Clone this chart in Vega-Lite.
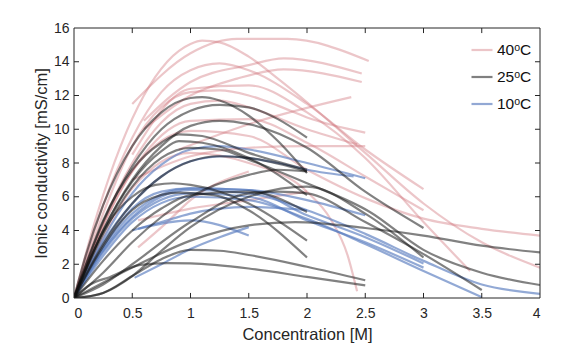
{
"$schema": "https://vega.github.io/schema/vega-lite/v6.json",
"width": 466, "height": 270,
"autosize": "none",
"padding": {"left": 74, "top": 28, "right": 42, "bottom": 57},
"background": "white",
"config": {
  "view": {"stroke": null},
  "font": "Liberation Sans",
  "axis": {"domain": false, "ticks": false, "grid": false, "labelColor": "#262626", "labelFontSize": 14, "titleColor": "#262626", "titleFontSize": 16.5, "titleFontWeight": "normal", "labelFont": "Liberation Sans", "titleFont": "Liberation Sans"},
  "axisX": {"labelPadding": 8, "titlePadding": 6},
  "axisY": {"labelPadding": 5, "titlePadding": 4},
  "legend": {"labelFont": "Liberation Sans"}
},
"data": {"values": [
{"s":"r1","g":"40ᵒC","c":0,"k":0},{"s":"r1","g":"40ᵒC","c":0.2,"k":5},{"s":"r1","g":"40ᵒC","c":0.4,"k":9},{"s":"r1","g":"40ᵒC","c":0.6,"k":12},{"s":"r1","g":"40ᵒC","c":0.8,"k":14},{"s":"r1","g":"40ᵒC","c":1,"k":15.05},{"s":"r1","g":"40ᵒC","c":1.1,"k":15.25},{"s":"r1","g":"40ᵒC","c":1.25,"k":15.15},{"s":"r1","g":"40ᵒC","c":1.5,"k":14.3},{"s":"r1","g":"40ᵒC","c":1.75,"k":13},{"s":"r1","g":"40ᵒC","c":2,"k":11.6},{"s":"r1","g":"40ᵒC","c":2.5,"k":8.6},{"s":"r1","g":"40ᵒC","c":3,"k":5.6},{"s":"r1","g":"40ᵒC","c":3.5,"k":3.3},{"s":"r1","g":"40ᵒC","c":4,"k":1.8},
{"s":"r2","g":"40ᵒC","c":0,"k":0},{"s":"r2","g":"40ᵒC","c":0.25,"k":5.5},{"s":"r2","g":"40ᵒC","c":0.5,"k":9.5},{"s":"r2","g":"40ᵒC","c":0.75,"k":12.2},{"s":"r2","g":"40ᵒC","c":1,"k":13.5},{"s":"r2","g":"40ᵒC","c":1.25,"k":13.9},{"s":"r2","g":"40ᵒC","c":1.5,"k":13.5},{"s":"r2","g":"40ᵒC","c":2,"k":11.5},{"s":"r2","g":"40ᵒC","c":2.5,"k":8.8},{"s":"r2","g":"40ᵒC","c":3,"k":6.45},
{"s":"r3","g":"40ᵒC","c":0.5,"k":11.5},{"s":"r3","g":"40ᵒC","c":1,"k":14.5},{"s":"r3","g":"40ᵒC","c":1.4,"k":15.35},{"s":"r3","g":"40ᵒC","c":1.83,"k":15.35},{"s":"r3","g":"40ᵒC","c":2.53,"k":14.05},
{"s":"r4","g":"40ᵒC","c":0.6,"k":10.5},{"s":"r4","g":"40ᵒC","c":1,"k":12.8},{"s":"r4","g":"40ᵒC","c":1.5,"k":13.8},{"s":"r4","g":"40ᵒC","c":1.8,"k":14.2},{"s":"r4","g":"40ᵒC","c":2.47,"k":13.3},
{"s":"r5","g":"40ᵒC","c":0.6,"k":10},{"s":"r5","g":"40ᵒC","c":1,"k":12},{"s":"r5","g":"40ᵒC","c":1.4,"k":13},{"s":"r5","g":"40ᵒC","c":1.8,"k":13.55},{"s":"r5","g":"40ᵒC","c":2.47,"k":12.8},
{"s":"r6","g":"40ᵒC","c":0,"k":0},{"s":"r6","g":"40ᵒC","c":0.25,"k":5},{"s":"r6","g":"40ᵒC","c":0.5,"k":9},{"s":"r6","g":"40ᵒC","c":0.75,"k":11.3},{"s":"r6","g":"40ᵒC","c":1,"k":12.2},{"s":"r6","g":"40ᵒC","c":1.25,"k":12.3},{"s":"r6","g":"40ᵒC","c":1.5,"k":12},{"s":"r6","g":"40ᵒC","c":1.75,"k":11.4},{"s":"r6","g":"40ᵒC","c":2,"k":10.7},{"s":"r6","g":"40ᵒC","c":2.5,"k":9.8},
{"s":"r7","g":"40ᵒC","c":0.9,"k":8.8},{"s":"r7","g":"40ᵒC","c":1.5,"k":10.3},{"s":"r7","g":"40ᵒC","c":2.38,"k":11.9},
{"s":"r8","g":"40ᵒC","c":0,"k":0},{"s":"r8","g":"40ᵒC","c":0.25,"k":4.5},{"s":"r8","g":"40ᵒC","c":0.5,"k":8},{"s":"r8","g":"40ᵒC","c":0.75,"k":10.4},{"s":"r8","g":"40ᵒC","c":1,"k":11.5},{"s":"r8","g":"40ᵒC","c":1.25,"k":11.7},{"s":"r8","g":"40ᵒC","c":1.5,"k":11.3},{"s":"r8","g":"40ᵒC","c":2,"k":10},{"s":"r8","g":"40ᵒC","c":2.43,"k":9.1},
{"s":"r9","g":"40ᵒC","c":0,"k":0},{"s":"r9","g":"40ᵒC","c":0.25,"k":4.3},{"s":"r9","g":"40ᵒC","c":0.5,"k":7.5},{"s":"r9","g":"40ᵒC","c":1,"k":9.9},{"s":"r9","g":"40ᵒC","c":1.5,"k":9.6},{"s":"r9","g":"40ᵒC","c":2,"k":7.6},{"s":"r9","g":"40ᵒC","c":2.54,"k":5.8},{"s":"r9","g":"40ᵒC","c":3,"k":4.7},{"s":"r9","g":"40ᵒC","c":3.5,"k":4.1},{"s":"r9","g":"40ᵒC","c":4,"k":3.7},
{"s":"r10","g":"40ᵒC","c":0,"k":0},{"s":"r10","g":"40ᵒC","c":0.25,"k":3.6},{"s":"r10","g":"40ᵒC","c":0.5,"k":6.5},{"s":"r10","g":"40ᵒC","c":1,"k":8.6},{"s":"r10","g":"40ᵒC","c":1.5,"k":8},{"s":"r10","g":"40ᵒC","c":2,"k":6.3},{"s":"r10","g":"40ᵒC","c":2.2,"k":4.7},{"s":"r10","g":"40ᵒC","c":2.35,"k":2.5},{"s":"r10","g":"40ᵒC","c":2.43,"k":0.4},
{"s":"r11","g":"40ᵒC","c":0.5,"k":8.5},{"s":"r11","g":"40ᵒC","c":1,"k":12.4},{"s":"r11","g":"40ᵒC","c":1.5,"k":12.6},{"s":"r11","g":"40ᵒC","c":2,"k":11},{"s":"r11","g":"40ᵒC","c":2.5,"k":8.3},{"s":"r11","g":"40ᵒC","c":3,"k":4.5},{"s":"r11","g":"40ᵒC","c":3.4,"k":1.6},
{"s":"r12","g":"40ᵒC","c":0.55,"k":3},{"s":"r12","g":"40ᵒC","c":0.8,"k":4.5},{"s":"r12","g":"40ᵒC","c":1,"k":5.8},{"s":"r12","g":"40ᵒC","c":1.5,"k":7.5},
{"s":"r13","g":"40ᵒC","c":0.55,"k":4.6},{"s":"r13","g":"40ᵒC","c":1,"k":5.3},{"s":"r13","g":"40ᵒC","c":1.5,"k":5.8},{"s":"r13","g":"40ᵒC","c":2,"k":6.3},
{"s":"r14","g":"40ᵒC","c":0.5,"k":7},{"s":"r14","g":"40ᵒC","c":1,"k":8.4},{"s":"r14","g":"40ᵒC","c":1.5,"k":8.9},{"s":"r14","g":"40ᵒC","c":2,"k":9},{"s":"r14","g":"40ᵒC","c":2.5,"k":9},
{"s":"r15","g":"40ᵒC","c":0,"k":0},{"s":"r15","g":"40ᵒC","c":0.3,"k":5},{"s":"r15","g":"40ᵒC","c":0.6,"k":8.5},{"s":"r15","g":"40ᵒC","c":1,"k":10.5},{"s":"r15","g":"40ᵒC","c":1.5,"k":10.6},{"s":"r15","g":"40ᵒC","c":2,"k":9.2},{"s":"r15","g":"40ᵒC","c":2.5,"k":7.2},{"s":"r15","g":"40ᵒC","c":3,"k":5.2},
{"s":"b1","g":"10ᵒC","c":0,"k":0},{"s":"b1","g":"10ᵒC","c":0.25,"k":3.5},{"s":"b1","g":"10ᵒC","c":0.5,"k":6.2},{"s":"b1","g":"10ᵒC","c":0.75,"k":7.9},{"s":"b1","g":"10ᵒC","c":1,"k":8.8},{"s":"b1","g":"10ᵒC","c":1.25,"k":9},{"s":"b1","g":"10ᵒC","c":1.5,"k":8.8},{"s":"b1","g":"10ᵒC","c":2,"k":8},{"s":"b1","g":"10ᵒC","c":2.5,"k":7.1},
{"s":"b2","g":"10ᵒC","c":0,"k":0},{"s":"b2","g":"10ᵒC","c":0.25,"k":3.3},{"s":"b2","g":"10ᵒC","c":0.5,"k":5.6},{"s":"b2","g":"10ᵒC","c":0.75,"k":7.2},{"s":"b2","g":"10ᵒC","c":1,"k":8.1},{"s":"b2","g":"10ᵒC","c":1.3,"k":8.4},{"s":"b2","g":"10ᵒC","c":1.75,"k":8},{"s":"b2","g":"10ᵒC","c":2,"k":7.6},{"s":"b2","g":"10ᵒC","c":2.4,"k":7.2},
{"s":"b3","g":"10ᵒC","c":0,"k":0},{"s":"b3","g":"10ᵒC","c":0.25,"k":3},{"s":"b3","g":"10ᵒC","c":0.5,"k":5.3},{"s":"b3","g":"10ᵒC","c":0.75,"k":6.3},{"s":"b3","g":"10ᵒC","c":1,"k":6.5},{"s":"b3","g":"10ᵒC","c":1.5,"k":6.4},{"s":"b3","g":"10ᵒC","c":2,"k":5.8},{"s":"b3","g":"10ᵒC","c":2.5,"k":4.9},
{"s":"b4","g":"10ᵒC","c":0,"k":0},{"s":"b4","g":"10ᵒC","c":0.25,"k":2.8},{"s":"b4","g":"10ᵒC","c":0.5,"k":4.8},{"s":"b4","g":"10ᵒC","c":1,"k":6.4},{"s":"b4","g":"10ᵒC","c":1.5,"k":6.2},{"s":"b4","g":"10ᵒC","c":2,"k":5.2},{"s":"b4","g":"10ᵒC","c":2.5,"k":3.8},{"s":"b4","g":"10ᵒC","c":3,"k":2.2},{"s":"b4","g":"10ᵒC","c":3.5,"k":0.8},{"s":"b4","g":"10ᵒC","c":4,"k":0.25},
{"s":"b5","g":"10ᵒC","c":0,"k":0},{"s":"b5","g":"10ᵒC","c":0.25,"k":2.5},{"s":"b5","g":"10ᵒC","c":0.5,"k":4.5},{"s":"b5","g":"10ᵒC","c":1,"k":6},{"s":"b5","g":"10ᵒC","c":1.5,"k":5.8},{"s":"b5","g":"10ᵒC","c":2,"k":4.7},{"s":"b5","g":"10ᵒC","c":2.5,"k":3.2},{"s":"b5","g":"10ᵒC","c":3,"k":1.6},{"s":"b5","g":"10ᵒC","c":3.5,"k":0.05},
{"s":"b6","g":"10ᵒC","c":0,"k":0},{"s":"b6","g":"10ᵒC","c":0.25,"k":2.7},{"s":"b6","g":"10ᵒC","c":0.5,"k":4.7},{"s":"b6","g":"10ᵒC","c":1,"k":6.2},{"s":"b6","g":"10ᵒC","c":1.5,"k":6},{"s":"b6","g":"10ᵒC","c":2,"k":4.6},{"s":"b6","g":"10ᵒC","c":2.5,"k":3.3},{"s":"b6","g":"10ᵒC","c":3,"k":1.8},
{"s":"b7","g":"10ᵒC","c":0,"k":0},{"s":"b7","g":"10ᵒC","c":0.25,"k":2.9},{"s":"b7","g":"10ᵒC","c":0.5,"k":5},{"s":"b7","g":"10ᵒC","c":1,"k":6.5},{"s":"b7","g":"10ᵒC","c":1.5,"k":6.4},{"s":"b7","g":"10ᵒC","c":2,"k":4.9},{"s":"b7","g":"10ᵒC","c":2.5,"k":3.6},{"s":"b7","g":"10ᵒC","c":3,"k":2.05},
{"s":"b8","g":"10ᵒC","c":0.52,"k":1.2},{"s":"b8","g":"10ᵒC","c":0.75,"k":2},{"s":"b8","g":"10ᵒC","c":1,"k":2.9},{"s":"b8","g":"10ᵒC","c":1.25,"k":3.6},{"s":"b8","g":"10ᵒC","c":1.5,"k":4.2},
{"s":"b9","g":"10ᵒC","c":0.55,"k":4.1},{"s":"b9","g":"10ᵒC","c":1,"k":4.6},{"s":"b9","g":"10ᵒC","c":1.5,"k":3.7},
{"s":"b10","g":"10ᵒC","c":0.5,"k":4},{"s":"b10","g":"10ᵒC","c":0.75,"k":4.5},{"s":"b10","g":"10ᵒC","c":1,"k":5},{"s":"b10","g":"10ᵒC","c":1.5,"k":5.4},{"s":"b10","g":"10ᵒC","c":2,"k":5.2},
{"s":"k1","g":"25ᵒC","c":0,"k":0},{"s":"k1","g":"25ᵒC","c":0.1,"k":2.5},{"s":"k1","g":"25ᵒC","c":0.25,"k":5.5},{"s":"k1","g":"25ᵒC","c":0.5,"k":9},{"s":"k1","g":"25ᵒC","c":0.75,"k":11},{"s":"k1","g":"25ᵒC","c":1,"k":11.85},{"s":"k1","g":"25ᵒC","c":1.1,"k":11.9},{"s":"k1","g":"25ᵒC","c":1.25,"k":11.7},{"s":"k1","g":"25ᵒC","c":1.5,"k":10.8},{"s":"k1","g":"25ᵒC","c":1.75,"k":9.3},{"s":"k1","g":"25ᵒC","c":2,"k":7.4},
{"s":"k2","g":"25ᵒC","c":0,"k":0},{"s":"k2","g":"25ᵒC","c":0.25,"k":4.5},{"s":"k2","g":"25ᵒC","c":0.5,"k":7.8},{"s":"k2","g":"25ᵒC","c":0.75,"k":10},{"s":"k2","g":"25ᵒC","c":1,"k":11.1},{"s":"k2","g":"25ᵒC","c":1.25,"k":11.45},{"s":"k2","g":"25ᵒC","c":1.5,"k":11.3},{"s":"k2","g":"25ᵒC","c":1.75,"k":10.6},{"s":"k2","g":"25ᵒC","c":2,"k":9.5},
{"s":"k3","g":"25ᵒC","c":0,"k":0},{"s":"k3","g":"25ᵒC","c":0.25,"k":4},{"s":"k3","g":"25ᵒC","c":0.5,"k":7},{"s":"k3","g":"25ᵒC","c":0.75,"k":9},{"s":"k3","g":"25ᵒC","c":1,"k":10.2},{"s":"k3","g":"25ᵒC","c":1.25,"k":10.5},{"s":"k3","g":"25ᵒC","c":1.5,"k":10.3},{"s":"k3","g":"25ᵒC","c":2,"k":8.9},{"s":"k3","g":"25ᵒC","c":2.5,"k":6.3},{"s":"k3","g":"25ᵒC","c":3,"k":4.15},
{"s":"k4","g":"25ᵒC","c":0,"k":0},{"s":"k4","g":"25ᵒC","c":0.25,"k":4.6},{"s":"k4","g":"25ᵒC","c":0.5,"k":7.6},{"s":"k4","g":"25ᵒC","c":0.75,"k":9.2},{"s":"k4","g":"25ᵒC","c":0.9,"k":9.7},{"s":"k4","g":"25ᵒC","c":1.1,"k":9.6},{"s":"k4","g":"25ᵒC","c":1.5,"k":8.6},{"s":"k4","g":"25ᵒC","c":2,"k":7.6},
{"s":"k5","g":"25ᵒC","c":0,"k":0},{"s":"k5","g":"25ᵒC","c":0.25,"k":4},{"s":"k5","g":"25ᵒC","c":0.5,"k":6.9},{"s":"k5","g":"25ᵒC","c":0.75,"k":8.7},{"s":"k5","g":"25ᵒC","c":0.9,"k":9.3},{"s":"k5","g":"25ᵒC","c":1.1,"k":9.2},{"s":"k5","g":"25ᵒC","c":1.5,"k":8.3},{"s":"k5","g":"25ᵒC","c":2,"k":6.1},
{"s":"k6","g":"25ᵒC","c":0,"k":0},{"s":"k6","g":"25ᵒC","c":0.25,"k":3.8},{"s":"k6","g":"25ᵒC","c":0.5,"k":6.6},{"s":"k6","g":"25ᵒC","c":0.75,"k":8.3},{"s":"k6","g":"25ᵒC","c":1,"k":8.9},{"s":"k6","g":"25ᵒC","c":1.25,"k":8.8},{"s":"k6","g":"25ᵒC","c":1.5,"k":8.2},{"s":"k6","g":"25ᵒC","c":2,"k":6.8},{"s":"k6","g":"25ᵒC","c":2.54,"k":5.1},{"s":"k6","g":"25ᵒC","c":3,"k":2.85},{"s":"k6","g":"25ᵒC","c":3.5,"k":1.5},{"s":"k6","g":"25ᵒC","c":4,"k":0.77},
{"s":"k7","g":"25ᵒC","c":0,"k":0},{"s":"k7","g":"25ᵒC","c":0.25,"k":3.2},{"s":"k7","g":"25ᵒC","c":0.5,"k":5.6},{"s":"k7","g":"25ᵒC","c":0.75,"k":7.2},{"s":"k7","g":"25ᵒC","c":1,"k":8.1},{"s":"k7","g":"25ᵒC","c":1.25,"k":8.4},{"s":"k7","g":"25ᵒC","c":1.5,"k":8.3},{"s":"k7","g":"25ᵒC","c":2,"k":7.5},
{"s":"k8","g":"25ᵒC","c":0,"k":0},{"s":"k8","g":"25ᵒC","c":0.15,"k":2.5},{"s":"k8","g":"25ᵒC","c":0.3,"k":4.5},{"s":"k8","g":"25ᵒC","c":0.5,"k":6},{"s":"k8","g":"25ᵒC","c":0.7,"k":6.7},{"s":"k8","g":"25ᵒC","c":0.85,"k":6.8},{"s":"k8","g":"25ᵒC","c":1,"k":6.7},{"s":"k8","g":"25ᵒC","c":1.25,"k":6.3},{"s":"k8","g":"25ᵒC","c":1.5,"k":5.6},{"s":"k8","g":"25ᵒC","c":2,"k":3.4},
{"s":"k9","g":"25ᵒC","c":0,"k":0},{"s":"k9","g":"25ᵒC","c":0.2,"k":2.5},{"s":"k9","g":"25ᵒC","c":0.4,"k":4.5},{"s":"k9","g":"25ᵒC","c":0.6,"k":5.7},{"s":"k9","g":"25ᵒC","c":0.9,"k":6.25},{"s":"k9","g":"25ᵒC","c":1.2,"k":6.1},{"s":"k9","g":"25ᵒC","c":1.5,"k":5.2},{"s":"k9","g":"25ᵒC","c":2,"k":2.4},
{"s":"k10","g":"25ᵒC","c":0,"k":0},{"s":"k10","g":"25ᵒC","c":0.5,"k":1.8},{"s":"k10","g":"25ᵒC","c":1,"k":3.4},{"s":"k10","g":"25ᵒC","c":1.5,"k":4.3},{"s":"k10","g":"25ᵒC","c":1.9,"k":4.5},{"s":"k10","g":"25ᵒC","c":2.5,"k":4.15},{"s":"k10","g":"25ᵒC","c":3,"k":3.7},{"s":"k10","g":"25ᵒC","c":3.5,"k":3.1},{"s":"k10","g":"25ᵒC","c":4,"k":2.7},
{"s":"k11","g":"25ᵒC","c":0,"k":0},{"s":"k11","g":"25ᵒC","c":0.25,"k":0.3},{"s":"k11","g":"25ᵒC","c":0.5,"k":1.3},{"s":"k11","g":"25ᵒC","c":0.75,"k":2.8},{"s":"k11","g":"25ᵒC","c":1,"k":4.2},{"s":"k11","g":"25ᵒC","c":1.5,"k":6},{"s":"k11","g":"25ᵒC","c":2,"k":6.6},{"s":"k11","g":"25ᵒC","c":2.5,"k":5},{"s":"k11","g":"25ᵒC","c":3,"k":2.4},
{"s":"k12","g":"25ᵒC","c":0,"k":0},{"s":"k12","g":"25ᵒC","c":0.25,"k":0.8},{"s":"k12","g":"25ᵒC","c":0.5,"k":2},{"s":"k12","g":"25ᵒC","c":1,"k":4.5},{"s":"k12","g":"25ᵒC","c":1.5,"k":6.2},{"s":"k12","g":"25ᵒC","c":1.75,"k":6.3},{"s":"k12","g":"25ᵒC","c":2,"k":6.2},{"s":"k12","g":"25ᵒC","c":2.5,"k":4.5},{"s":"k12","g":"25ᵒC","c":3,"k":2.6},{"s":"k12","g":"25ᵒC","c":3.5,"k":0.47},
{"s":"k13","g":"25ᵒC","c":0,"k":0},{"s":"k13","g":"25ᵒC","c":0.25,"k":0.3},{"s":"k13","g":"25ᵒC","c":0.5,"k":1.3},{"s":"k13","g":"25ᵒC","c":0.75,"k":2.3},{"s":"k13","g":"25ᵒC","c":1,"k":2.85},{"s":"k13","g":"25ᵒC","c":1.25,"k":2.8},{"s":"k13","g":"25ᵒC","c":1.5,"k":2.55},{"s":"k13","g":"25ᵒC","c":2,"k":1.85},{"s":"k13","g":"25ᵒC","c":2.5,"k":1.05},
{"s":"k14","g":"25ᵒC","c":0,"k":0},{"s":"k14","g":"25ᵒC","c":0.14,"k":0.8},{"s":"k14","g":"25ᵒC","c":0.31,"k":1.25},{"s":"k14","g":"25ᵒC","c":0.57,"k":1.96},{"s":"k14","g":"25ᵒC","c":0.8,"k":2.07},{"s":"k14","g":"25ᵒC","c":1,"k":2.05},{"s":"k14","g":"25ᵒC","c":1.5,"k":1.75},{"s":"k14","g":"25ᵒC","c":2,"k":1.25},{"s":"k14","g":"25ᵒC","c":2.5,"k":0.75},
{"s":"k15","g":"25ᵒC","c":0,"k":0},{"s":"k15","g":"25ᵒC","c":0.25,"k":1.5},{"s":"k15","g":"25ᵒC","c":0.5,"k":3.3},{"s":"k15","g":"25ᵒC","c":0.75,"k":4.8},{"s":"k15","g":"25ᵒC","c":1,"k":6},{"s":"k15","g":"25ᵒC","c":1.5,"k":7.3},{"s":"k15","g":"25ᵒC","c":1.75,"k":7.6},{"s":"k15","g":"25ᵒC","c":2,"k":7.5},
{"s":"k16","g":"25ᵒC","c":0,"k":0},{"s":"k16","g":"25ᵒC","c":0.25,"k":2.2},{"s":"k16","g":"25ᵒC","c":0.5,"k":4},{"s":"k16","g":"25ᵒC","c":0.75,"k":5.3},{"s":"k16","g":"25ᵒC","c":1,"k":6.1},{"s":"k16","g":"25ᵒC","c":1.5,"k":6.3},{"s":"k16","g":"25ᵒC","c":2,"k":5.1}
]},
"layer": [
  {
    "mark": {"type": "line", "interpolate": "monotone", "clip": true},
    "encoding": {
      "x": {"field": "c", "type": "quantitative", "scale": {"domain": [0, 4], "nice": false}, "title": "Concentration [M]",
            "axis": {"values": [0, 0.5, 1, 1.5, 2, 2.5, 3, 3.5, 4], "format": "~g"}},
      "y": {"field": "k", "type": "quantitative", "scale": {"domain": [0, 16], "nice": false}, "title": "Ionic conductivity [mS/cm]",
            "axis": {"values": [0, 2, 4, 6, 8, 10, 12, 14, 16], "format": "~g"}},
      "color": {"field": "g", "type": "nominal",
                "scale": {"domain": ["40ᵒC", "25ᵒC", "10ᵒC"], "range": ["#d07078", "#111111", "#5a7cbf"]},
                "legend": {"orient": "none", "legendX": 396, "legendY": 10, "title": null, "symbolType": "stroke", "symbolSize": 441, "labelFontSize": 15.5, "labelColor": "#111111", "labelOffset": 3, "rowPadding": 6}},
      "opacity": {"field": "g", "type": "nominal",
                  "scale": {"domain": ["40ᵒC", "25ᵒC", "10ᵒC"], "range": [0.4, 0.66, 0.42]}},
      "strokeWidth": {"field": "g", "type": "nominal",
                  "scale": {"domain": ["40ᵒC", "25ᵒC", "10ᵒC"], "range": [2.2, 2.2, 2.8]}},
      "detail": {"field": "s"}
    }
  },
  {
    "data": {"values": [{"v": 0.5}, {"v": 1}, {"v": 1.5}, {"v": 2}, {"v": 2.5}, {"v": 3}, {"v": 3.5}]},
    "layer": [
      {"mark": {"type": "rule", "color": "#262626", "strokeWidth": 1},
       "encoding": {"x": {"field": "v", "type": "quantitative", "title": "Concentration [M]", "axis": {"values": [0, 0.5, 1, 1.5, 2, 2.5, 3, 3.5, 4], "format": "~g"}},
                    "y": {"datum": 0, "title": "Ionic conductivity [mS/cm]", "axis": {"values": [0, 2, 4, 6, 8, 10, 12, 14, 16], "format": "~g"}}, "y2": {"datum": 0.3}}},
      {"mark": {"type": "rule", "color": "#262626", "strokeWidth": 1},
       "encoding": {"x": {"field": "v", "type": "quantitative", "title": "Concentration [M]", "axis": {"values": [0, 0.5, 1, 1.5, 2, 2.5, 3, 3.5, 4], "format": "~g"}},
                    "y": {"datum": 16, "title": "Ionic conductivity [mS/cm]", "axis": {"values": [0, 2, 4, 6, 8, 10, 12, 14, 16], "format": "~g"}}, "y2": {"datum": 15.7}}}
    ]
  },
  {
    "data": {"values": [{"v": 2}, {"v": 4}, {"v": 6}, {"v": 8}, {"v": 10}, {"v": 12}, {"v": 14}]},
    "layer": [
      {"mark": {"type": "rule", "color": "#262626", "strokeWidth": 1},
       "encoding": {"y": {"field": "v", "type": "quantitative", "title": "Ionic conductivity [mS/cm]", "axis": {"values": [0, 2, 4, 6, 8, 10, 12, 14, 16], "format": "~g"}},
                    "x": {"datum": 0, "title": "Concentration [M]", "axis": {"values": [0, 0.5, 1, 1.5, 2, 2.5, 3, 3.5, 4], "format": "~g"}}, "x2": {"datum": 0.043}}},
      {"mark": {"type": "rule", "color": "#262626", "strokeWidth": 1},
       "encoding": {"y": {"field": "v", "type": "quantitative", "title": "Ionic conductivity [mS/cm]", "axis": {"values": [0, 2, 4, 6, 8, 10, 12, 14, 16], "format": "~g"}},
                    "x": {"datum": 4, "title": "Concentration [M]", "axis": {"values": [0, 0.5, 1, 1.5, 2, 2.5, 3, 3.5, 4], "format": "~g"}}, "x2": {"datum": 3.957}}}
    ]
  },
  {
    "data": {"values": [{"v": 0}, {"v": 4}]},
    "mark": {"type": "rule", "color": "#262626", "strokeWidth": 1},
    "encoding": {"x": {"field": "v", "type": "quantitative", "title": "Concentration [M]", "axis": {"values": [0, 0.5, 1, 1.5, 2, 2.5, 3, 3.5, 4], "format": "~g"}}}
  },
  {
    "data": {"values": [{"v": 0}, {"v": 16}]},
    "mark": {"type": "rule", "color": "#262626", "strokeWidth": 1},
    "encoding": {"y": {"field": "v", "type": "quantitative", "title": "Ionic conductivity [mS/cm]", "axis": {"values": [0, 2, 4, 6, 8, 10, 12, 14, 16], "format": "~g"}}}
  }
]
}
